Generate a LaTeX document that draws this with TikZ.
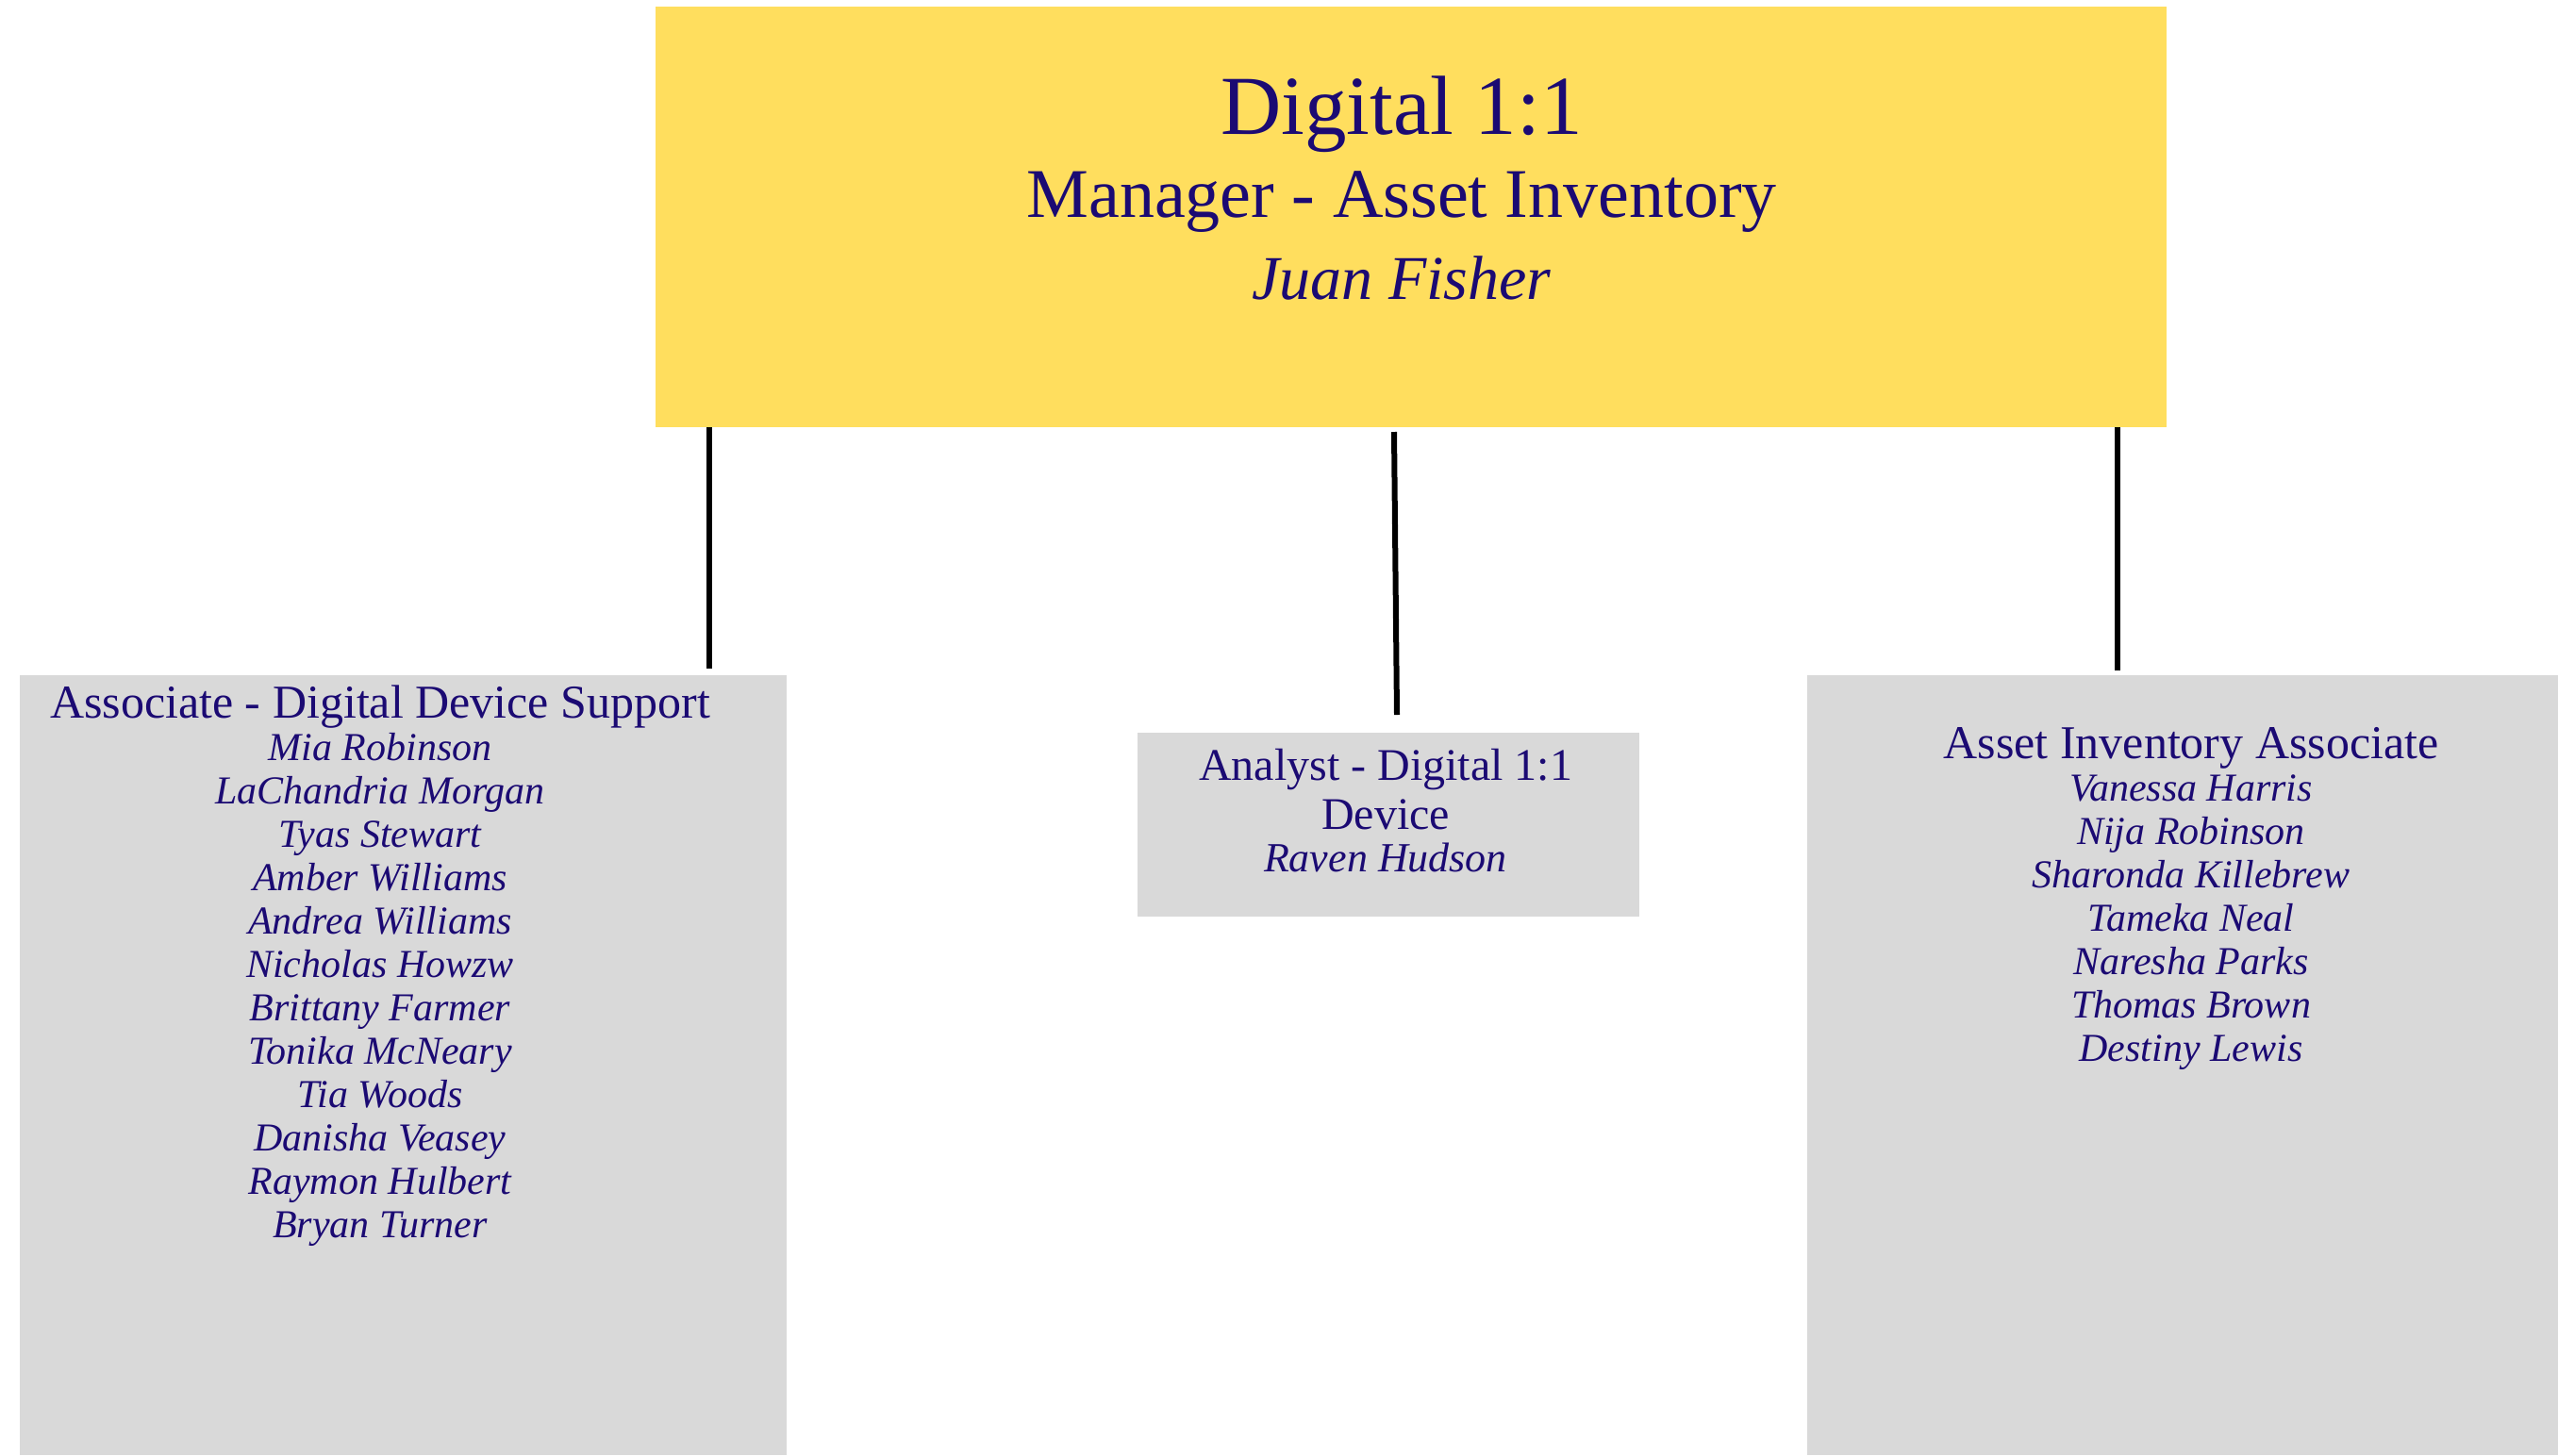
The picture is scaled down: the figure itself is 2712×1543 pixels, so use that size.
\documentclass[tikz,border=0pt]{standalone}
\usepackage{fontspec}
\setmainfont{Liberation Serif}
\definecolor{topyellow}{RGB}{255,222,94}
\definecolor{boxgray}{RGB}{217,217,217}
\definecolor{inktext}{RGB}{27,10,115}
\tikzset{
  px/.style={x=1pt,y=-1pt},
  boxbase/.style={rectangle,draw=none,inner sep=0pt,outer sep=0pt,anchor=north west},
  topbox/.style={boxbase,fill=topyellow},
  graybox/.style={boxbase,fill=boxgray},
  link/.style={line width=6pt,black},
  txt/.style={anchor=base,inner sep=0pt,text=inktext},
}
\newcommand{\fs}[1]{\fontsize{#1}{#1}\selectfont}
\begin{document}
\begin{tikzpicture}[px]
\useasboundingbox (0,0) rectangle (2712,1543);
\fill[white] (0,0) rectangle (2712,1543);
% boxes
\node[topbox,minimum width=1602pt,minimum height=446pt] (top) at (695,7) {};
\node[graybox,minimum width=813pt,minimum height=827pt] (left) at (21,716) {};
\node[graybox,minimum width=532pt,minimum height=195pt] (mid) at (1206,777) {};
\node[graybox,minimum width=796pt,minimum height=827pt] (right) at (1916,716) {};
% connectors
\coordinate (lb) at (752,709);
\coordinate (mb) at (1481,758);
\coordinate (rb) at (2245,711);
\coordinate (ma) at (1478,458);
\draw[link] (top.south -| lb) -- (lb);
\draw[link] (ma) -- (mb);
\draw[link] (top.south -| rb) -- (rb);
% top text
\node[txt,font=\fs{89}] (t1) at (1486,142) {Digital 1:1};
\node[txt,font=\fs{74}] (t2) at (1486,230) {Manager - Asset Inventory};
\node[txt,font=\fs{66}\itshape] (t3) at (1486,317) {Juan Fisher};
% left box
\node[txt,font=\fs{50}] (lh) at (403,761) {Associate - Digital Device Support};
\foreach \nm [count=\i from 0] in {Mia Robinson,LaChandria Morgan,Tyas Stewart,Amber Williams,Andrea Williams,Nicholas Howzw,Brittany Farmer,Tonika McNeary,Tia Woods,Danisha Veasey,Raymon Hulbert,Bryan Turner}
  \node[txt,font=\fs{42}\itshape] (ln\i) at (403,806+46*\i) {\nm};
% middle box
\node[txt,font=\fs{48}] (mh1) at (1469,827) {Analyst - Digital 1:1};
\node[txt,font=\fs{48}] (mh2) at (1469,879) {Device};
\node[txt,font=\fs{44}\itshape] (mn) at (1469,924) {Raven Hudson};
% right box
\node[txt,font=\fs{50}] (rh) at (2323,804) {Asset Inventory Associate};
\foreach \nm [count=\i from 0] in {Vanessa Harris,Nija Robinson,Sharonda Killebrew,Tameka Neal,Naresha Parks,Thomas Brown,Destiny Lewis}
  \node[txt,font=\fs{42}\itshape] (rn\i) at (2323,849+46*\i) {\nm};
\end{tikzpicture}
\end{document}
